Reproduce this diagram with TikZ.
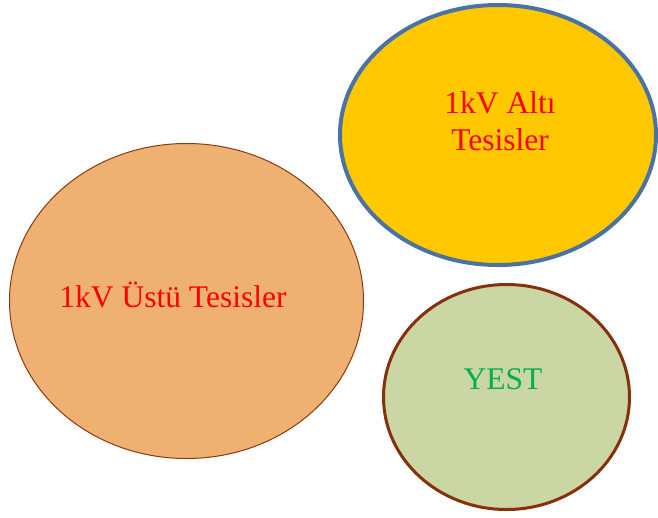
\documentclass[tikz,border=0pt]{standalone}
\usepackage{fontspec}
\setmainfont{Liberation Serif}
\usetikzlibrary{shapes.geometric}
\definecolor{peach}{HTML}{EEB171}
\definecolor{peachline}{HTML}{8B3A0F}
\definecolor{gold}{HTML}{FFC800}
\definecolor{steel}{HTML}{4A72A2}
\definecolor{sage}{HTML}{CAD6A3}
\definecolor{rust}{HTML}{86300C}
\definecolor{leaf}{HTML}{00B050}
\tikzset{
  blob/.style={ellipse, inner sep=0pt},
  caption/.style={font=\fontsize{31.5}{37}\selectfont, inner sep=0pt, align=center}
}
\begin{document}
\begin{tikzpicture}[x=1pt, y=-1pt]
  \useasboundingbox (0,0) rectangle (658,517);
  % high-voltage installations
  \node[blob, fill=peach, draw=peachline, line width=1pt,
        minimum width=354pt, minimum height=315pt] (ust) at (186.5,301) {};
  % low-voltage installations
  \node[blob, fill=gold, draw=steel, line width=4pt,
        minimum width=316pt, minimum height=260pt] (alt) at (498,135) {};
  % YEST
  \node[blob, fill=sage, draw=rust, line width=3pt,
        minimum width=246pt, minimum height=225pt] (yest) at (506.5,397) {};
  % captions
  \node[caption, text=red, anchor=base] (ustText) at (173,307) {1kV Üstü Tesisler};
  \node[caption, text=red] (altText) at (500,121) {1kV Altı\\Tesisler};
  \node[caption, text=leaf, anchor=base] (yestText) at (503,389) {YEST};
\end{tikzpicture}
\end{document}
